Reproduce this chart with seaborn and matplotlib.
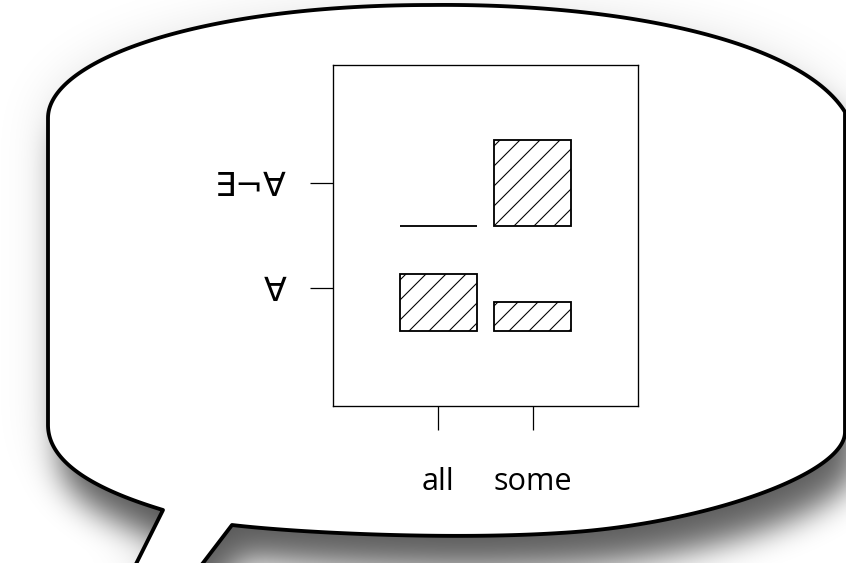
import numpy as np
import pandas as pd
import matplotlib
matplotlib.use('Agg')
import matplotlib.pyplot as plt
import matplotlib.patches as mpatches
from matplotlib.path import Path
import seaborn as sns

# ── data ─────────────────────────────────────────────────────────
quantifiers = ['all', 'some']
readings = ['∀', '∃¬∀']
counts_forall = [2, 1]          # reading ∀
counts_exists_not_all = [0, 3]  # reading ∃¬∀

# ── style ────────────────────────────────────────────────────────
sns.set_style('ticks')
plt.rcParams['font.family'] = ['Open Sans', 'DejaVu Sans']
plt.rcParams['hatch.linewidth'] = 0.65
plt.rcParams['hatch.color'] = 'black'

W, H, DPI = 846, 563, 120
fig = plt.figure(figsize=(W / DPI, H / DPI), dpi=DPI, facecolor='white')


# ── speech bubble background (pixel coords, y down) ──────────────
def cubic(p0, p1, p2, p3, n=80):
    p0, p1, p2, p3 = map(np.asarray, (p0, p1, p2, p3))
    t = np.linspace(0, 1, n)[:, None]
    return ((1 - t) ** 3 * p0 + 3 * (1 - t) ** 2 * t * p1
            + 3 * (1 - t) * t ** 2 * p2 + t ** 3 * p3)


bubble = np.vstack([
    [[128, 580], [163, 510]],
    cubic((163, 510), (110, 494), (48, 468), (48, 425)),
    [[48, 118]],
    cubic((48, 118), (48, 60), (200, 5), (430, 5)),
    cubic((430, 5), (620, 3), (800, 40), (845, 112)),
    [[845, 432]],
    cubic((845, 432), (845, 475), (700, 525), (560, 533)),
    cubic((560, 533), (450, 540), (300, 533), (232, 525)),
    [[190, 580]],
])


def gblur(a, s):
    r = int(3 * s)
    k = np.exp(-0.5 * (np.arange(-r, r + 1) / s) ** 2)
    k /= k.sum()
    a = np.apply_along_axis(lambda m: np.convolve(m, k, mode='same'), 0, a)
    a = np.apply_along_axis(lambda m: np.convolve(m, k, mode='same'), 1, a)
    return a


pad = 100
gx, gy = np.meshgrid(np.arange(-pad, W + pad) + 0.5, np.arange(-pad, H + pad) + 0.5)
pts = np.column_stack([gx.ravel(), gy.ravel()])


def shadow(dx, dy, sigma, alpha):
    m = Path(bubble + [dx, dy]).contains_points(pts).reshape(gx.shape).astype(float)
    m = gblur(m, sigma)
    return m[pad:pad + H, pad:pad + W] * alpha


shade = shadow(12, 34, 15, 0.56) + shadow(0, 4, 26, 0.12)
shade = np.clip(shade, 0, 1)
rgba = np.zeros((H, W, 4))
rgba[..., 3] = shade

bg = fig.add_axes([0, 0, 1, 1])
bg.imshow(rgba, extent=(0, W, H, 0), interpolation='nearest')
bg.add_patch(mpatches.Polygon(bubble, closed=True, facecolor='white',
                              edgecolor='black', linewidth=2.3, joinstyle='round'))
bg.set_xlim(0, W)
bg.set_ylim(H, 0)
bg.axis('off')

# ── the small chart inside the bubble ────────────────────────────
ax = fig.add_axes([333 / W, 1 - 406 / H, 305 / W, 341 / H])
ax.set_facecolor('none')

ROW_STEP = 3.7   # max bar height 3 + gap
for i, vals in enumerate([counts_forall, counts_exists_not_all]):
    df = pd.DataFrame({'quantifier': quantifiers, 'count': vals})
    sns.barplot(data=df, x='quantifier', y='count', order=quantifiers, ax=ax,
                bottom=i * ROW_STEP, width=0.815, color='white', saturation=1,
                edgecolor='black', linewidth=1.1, hatch='//', errorbar=None)

ax.set_xlim(-1.115, 2.115)
ax.set_ylim(-2.65, 9.35)
ax.set_yticks([i * ROW_STEP + 1.5 for i in range(len(readings))])
ax.set_yticklabels(readings, family=['DejaVu Sans'], fontsize=20)
ax.set_xticks(range(len(quantifiers)))
ax.set_xticklabels(quantifiers, fontsize=18.4)
ax.set_xlabel('')
ax.set_ylabel('')

for s in ax.spines.values():
    s.set_visible(True)
    s.set_color('black')
    s.set_linewidth(0.8)
ax.tick_params(axis='y', direction='out', length=13.8, width=0.75,
               pad=13.8, colors='black')
ax.tick_params(axis='x', direction='out', length=14.4, width=0.75,
               pad=22, colors='black')

fig.savefig('out.png', dpi=DPI, facecolor='white')
